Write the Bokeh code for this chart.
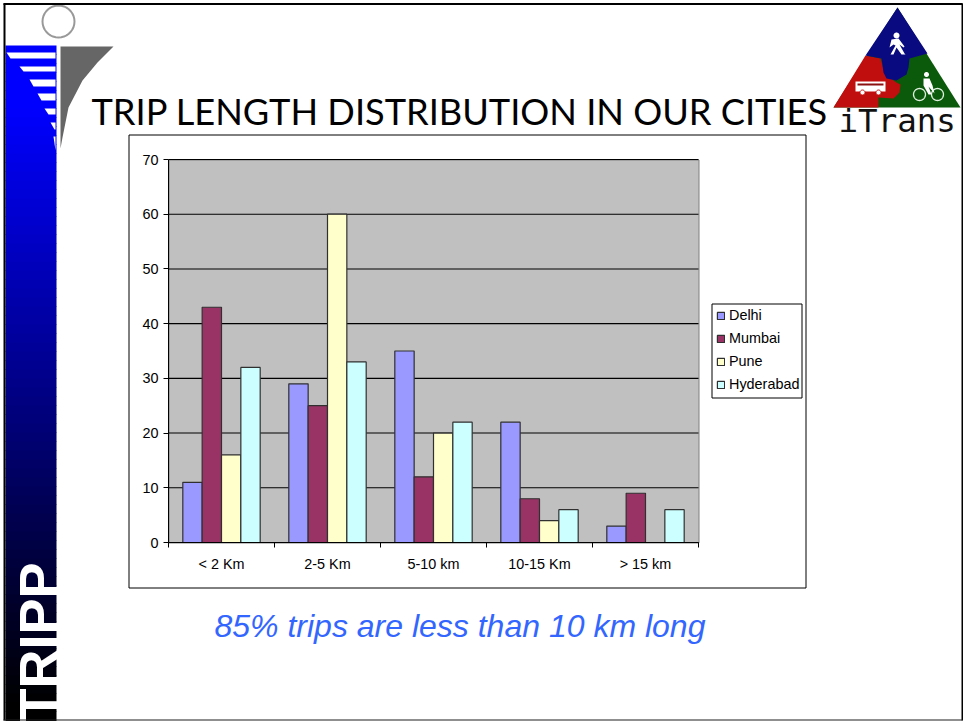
import math

from bokeh.embed import file_html
from bokeh.models import (FixedTicker, Label, Legend, LegendItem, LinearAxis,
                          PolyAnnotation, Range1d)
from bokeh.plotting import figure
from bokeh.resources import INLINE

# Share of trips (%) by length band
categories = ["< 2 Km", "2-5 Km", "5-10 km", "10-15 Km", "> 15 km"]
delhi = [11, 29, 35, 22, 3]
mumbai = [43, 25, 12, 8, 9]
pune = [16, 60, 20, 4, 0]
hyderabad = [32, 33, 22, 6, 6]

series_names = ["Delhi", "Mumbai", "Pune", "Hyderabad"]
series_values = [delhi, mumbai, pune, hyderabad]
series_colors = ["#9999FF", "#993366", "#FFFFCC", "#CCFFFF"]
y_ticks = [0, 10, 20, 30, 40, 50, 60, 70]

title_text = "TRIP LENGTH DISTRIBUTION IN OUR CITIES"
caption_text = "85% trips are less than 10 km long"

W, H = 965, 721
PLOT_L, PLOT_R, PLOT_T, PLOT_B = 168, 698, 159, 542

# The frame fills the page; the page scale is in pixels, and the chart keeps
# its own value scales placed over the plot rectangle.
p = figure(width=W, height=H, output_backend="svg", toolbar_location=None,
           x_range=Range1d(0, W), y_range=Range1d(H, 0),
           x_axis_location=None, y_axis_location=None,
           min_border=0, outline_line_color=None,
           background_fill_color="white", border_fill_color="white")
p.grid.visible = False

n_cat = len(categories)
px_per_cat = (PLOT_R - PLOT_L) / n_cat
px_per_val = (PLOT_B - PLOT_T) / y_ticks[-1]
p.extra_x_ranges["cat"] = Range1d(-PLOT_L / px_per_cat, (W - PLOT_L) / px_per_cat)
p.extra_y_ranges["val"] = Range1d(-(H - PLOT_B) / px_per_val, (PLOT_B) / px_per_val)


def poly(xs, ys, fill, line=None, width=1, level="annotation"):
    p.add_layout(PolyAnnotation(xs=list(xs), ys=list(ys), xs_units="data", ys_units="data",
                                fill_color=fill, fill_alpha=1 if fill else 0,
                                line_color=line, line_alpha=1, line_width=width, level=level,
                                editable=False))


def rect(x0, y0, x1, y1, fill, line=None, width=1, level="annotation"):
    poly([x0, x1, x1, x0], [y0, y0, y1, y1], fill, line, width, level)


def disc(cx, cy, r, fill, line=None, width=1):
    angles = [i * math.pi / 18 for i in range(36)]
    poly([cx + r * math.cos(a) for a in angles], [cy + r * math.sin(a) for a in angles],
         fill, line, width)


def text(x, y, s, size, color="black", font="Liberation Sans", **kw):
    # Labels land about 0.4 em below their anchor on this inverted page scale
    p.add_layout(Label(x=x, y=y - 0.4 * size, text=s,
                       text_font=font, text_font_size=f"{size}px", text_color=color,
                       text_baseline="alphabetic", **kw))


# Chart panel, plot background and legend box
rect(128.5, 134.5, 805.5, 587.5, "white", "black", 1, "underlay")
rect(PLOT_L + 0.5, PLOT_T + 0.5, PLOT_R + 0.5, PLOT_B + 0.5, "#C0C0C0", "#808080", 1, "underlay")
rect(711.5, 303.5, 801.5, 397.5, "white", "black", 1, "underlay")

# Horizontal gridlines
p.segment(x0=[0] * len(y_ticks), x1=[n_cat] * len(y_ticks), y0=y_ticks, y1=y_ticks,
          x_range_name="cat", y_range_name="val", line_color="black", line_width=1.1)

# Grouped bars
bar_w = 0.1825
bars = []
for k, (name, vals, col) in enumerate(zip(series_names, series_values, series_colors)):
    offset = (k - 1.5) * bar_w
    centers = [i + 0.5 + offset for i in range(n_cat)]
    bars.append(p.vbar(x=centers, top=vals, bottom=0, width=bar_w, fill_color=col,
                       line_color="#303030", line_width=1.2,
                       x_range_name="cat", y_range_name="val"))

legend = Legend(items=[LegendItem(label=n, renderers=[r]) for n, r in zip(series_names, bars)],
                location=(716, H - 392), orientation="vertical",
                background_fill_alpha=0, border_line_color=None,
                glyph_width=9, glyph_height=9, label_text_font="Liberation Sans",
                label_text_font_size="14.4px", label_text_color="black",
                label_height=14, spacing=7, padding=5, margin=0, label_standoff=4)
p.add_layout(legend, "center")

# Axes: labels sit mid-category, ticks on the category boundaries
xa = LinearAxis(x_range_name="cat", y_range_name="val", fixed_location=0, bounds=(0, n_cat),
                ticker=FixedTicker(ticks=[i + 0.5 for i in range(n_cat)],
                                   minor_ticks=list(range(n_cat + 1))),
                major_label_overrides={i + 0.5: c for i, c in enumerate(categories)},
                major_tick_in=0, major_tick_out=0, minor_tick_in=0, minor_tick_out=5,
                minor_tick_line_color="black", major_label_standoff=8,
                major_label_text_font="Liberation Sans", major_label_text_font_size="14.4px",
                major_label_text_color="black", axis_line_color="black")
p.add_layout(xa, "below")

ya = LinearAxis(x_range_name="cat", y_range_name="val", fixed_location=0, bounds=(0, y_ticks[-1]),
                ticker=FixedTicker(ticks=y_ticks, minor_ticks=[]),
                major_tick_in=0, major_tick_out=5, major_tick_line_color="black",
                major_label_standoff=5, major_label_text_font="Liberation Sans",
                major_label_text_font_size="14.4px", major_label_text_color="black",
                axis_line_color="black")
p.add_layout(ya, "left")

# Blue sidebar fading to black
band_top, band_bottom, step = 45, 720, 9
for y in range(band_top, band_bottom, step):
    t = min(max((y - 100) / 600, 0), 1)
    rect(5, y, 56, y + step + 0.5, "#%02x%02x%02x" % (0, 0, round(255 * (1 - t))))

stripes = [(6, 52, 58), (19, 66, 71), (29, 79, 86), (37, 93, 100), (44, 108, 114), (50, 122, 129)]
for x0, y0, y1 in stripes:
    poly([x0, 55, 55, x0 + 4], [y0, y0, y1, y1], "white")
poly([53, 55, 55], [136, 136, 150], "white")

text(37, 721 + 0.4 * 54, "TRIPP", 54, "white", angle=math.pi / 2, text_font_style="bold")

# Head and swoosh of the institute mark
disc(58, 21, 16, "white", "#999999", 2)
poly([60, 113, 97, 82, 68, 62, 60], [46, 46, 62, 80, 107, 137, 148], "#666666")

# Slide frame
rect(3, 3, 5, 720, "black")
rect(3, 2.5, 962, 4.5, "black")
rect(961, 3, 962.5, 720, "black")
rect(3, 719, 962, 720, "#202020")

# iTrans logo: three interlocking triangle pieces
poly([897, 833, 960], [7, 107, 107], "#0B5A0B")
poly([865, 880, 884, 890, 896, 900, 899, 893, 878, 878, 833],
     [55, 58, 72, 78, 82, 84, 92, 98, 97, 107, 107], "#C00D0D")
poly([897, 927, 909, 908, 906, 896, 886, 883, 881, 865],
     [7, 53, 58, 67, 74, 80, 78, 72, 58, 55], "#0A0A80")

disc(896, 35, 3, "white")
poly([891, 898, 904, 903, 899, 904, 905, 901, 896, 893, 890, 895, 893, 889],
     [39, 38, 46, 47, 44, 53, 54, 54, 47, 54, 54, 45, 44, 47], "white")

rect(855, 81, 885, 91, "white")
rect(857, 83, 883, 85, "#8C1010")
disc(862, 92, 2.5, "white", "#C00D0D", 1)
disc(878, 92, 2.5, "white", "#C00D0D", 1)

disc(919, 94, 6, None, "#DDEEDD", 1.3)
disc(937, 94, 6, None, "#DDEEDD", 1.3)
disc(926, 74, 2.5, "white")
poly([923, 929, 932, 934, 928, 931, 928, 923], [78, 78, 85, 93, 86, 94, 94, 85], "white")

text(838, 133, "iTrans", 32.5, "#111111", "DejaVu Sans Mono")

# Slide headline and takeaway
text(91, 124.5, title_text, 36.2, "black", "Lato")
text(214, 638, caption_text, 32, "#3366FF", "Liberation Sans", text_font_style="italic")

open("out.html", "w").write(file_html(p, INLINE))
